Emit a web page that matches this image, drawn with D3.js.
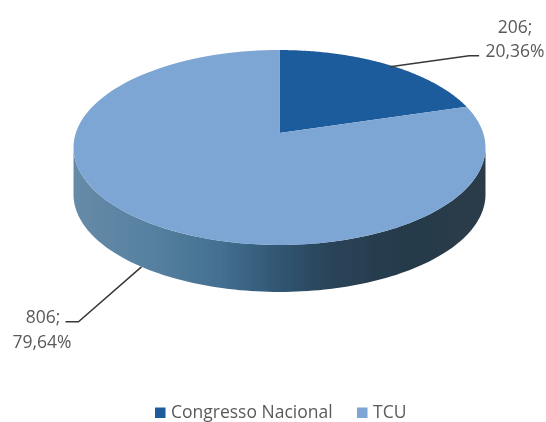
<!DOCTYPE html>
<html><head><meta charset="utf-8">
<script src="https://cdn.jsdelivr.net/npm/d3@7/dist/d3.min.js"></script>
<style>html,body{margin:0;background:#fff}svg{display:block}</style></head>
<body><svg id="c" width="546" height="422"></svg>
<script>
const categories = ["Congresso Nacional", "TCU"];
const values = [206, 806];
const percents = ["20,36%", "79,64%"];
const colors = ["#1f5c9c", "#7ea6d4"];

const svg = d3.select("#c");
const defs = svg.append("defs");
const f = defs.append("filter").attr("id","soft").attr("x","-5%").attr("y","-5%").attr("width","110%").attr("height","110%");
f.append("feGaussianBlur").attr("stdDeviation",0.55);
const g = defs.append("linearGradient").attr("id","side").attr("gradientUnits","userSpaceOnUse")
  .attr("x1",73).attr("x2",484).attr("y1",0).attr("y2",0);
[[0,"#668ba8"],[0.2,"#55809f"],[0.36,"#446f90"],[0.5,"#305673"],[0.62,"#2a4459"],[0.8,"#273a4a"],[1,"#2a3b49"]]
  .forEach(s=>g.append("stop").attr("offset",s[0]).attr("stop-color",s[1]));

// tilted disc: unit circle projected with a perspective divide
const apex = {x:279.5, y:133}, A = 203.7, B = 95.3, P = 0.1487, depth = 47;
const proj = (t, dy=0) => {
  const u = Math.sin(t), v = Math.cos(t), w = 1 + P*v;
  return [apex.x + A*u/w, apex.y - B*v/w + dy];
};
const steps = (a,b) => d3.range(0,121).map(i => a + (b-a)*i/120);
const line = d3.line().curve(d3.curveLinear);
const pie = d3.pie().sort(null).value(d=>d)(values);
const root = svg.append("g").attr("filter","url(#soft)");

// side wall
const tR = Math.acos(-P), tL = 2*Math.PI - tR;
const wall = steps(tR,tL).map(t=>proj(t)).concat(steps(tL,tR).map(t=>proj(t,depth)));
root.append("path").attr("d",line(wall)+"Z").attr("fill","url(#side)");

// top face
root.selectAll("path.slice").data(pie).enter().append("path").attr("class","slice")
  .attr("d",d=>line([[apex.x,apex.y]].concat(steps(d.startAngle,d.endAngle).map(t=>proj(t))))+"Z")
  .attr("fill",(d,i)=>colors[i]);

// leader lines
const mid = d => (d.startAngle+d.endAngle)/2;
const p0 = proj(mid(pie[0])), p1 = proj(mid(pie[1]),depth);
const leader = root.append("g").attr("fill","none").attr("stroke","#383838").attr("stroke-width",1.5);
leader.append("path").attr("d",line([[p0[0]+2,p0[1]+2],[p0[0]+81,p0[1]-9],[p0[0]+91,p0[1]-9]]));
leader.append("path").attr("d",line([p1,[p1[0]-63,p1[1]+55],[p1[0]-76,p1[1]+55]]));

// labels
const txt = root.append("g").attr("font-family","'Open Sans', Lato, sans-serif").attr("fill","#5a5a5a");
const label = (x,y,s)=>txt.append("text").attr("x",x).attr("y",y).attr("text-anchor","middle").attr("font-size",17.5).text(s);
label(515,33,values[0]+";"); label(515,57,percents[0]);
label(43,323,values[1]+";"); label(42,348,percents[1]);

// legend
const lx = [155,357];
categories.forEach((c,i)=>{
  root.append("rect").attr("x",lx[i]).attr("y",407.5).attr("width",10.5).attr("height",10.5).attr("fill",colors[i]);
  txt.append("text").attr("x",lx[i]+16).attr("y",418).attr("font-size",17.5).text(c);
});
</script></body></html>
